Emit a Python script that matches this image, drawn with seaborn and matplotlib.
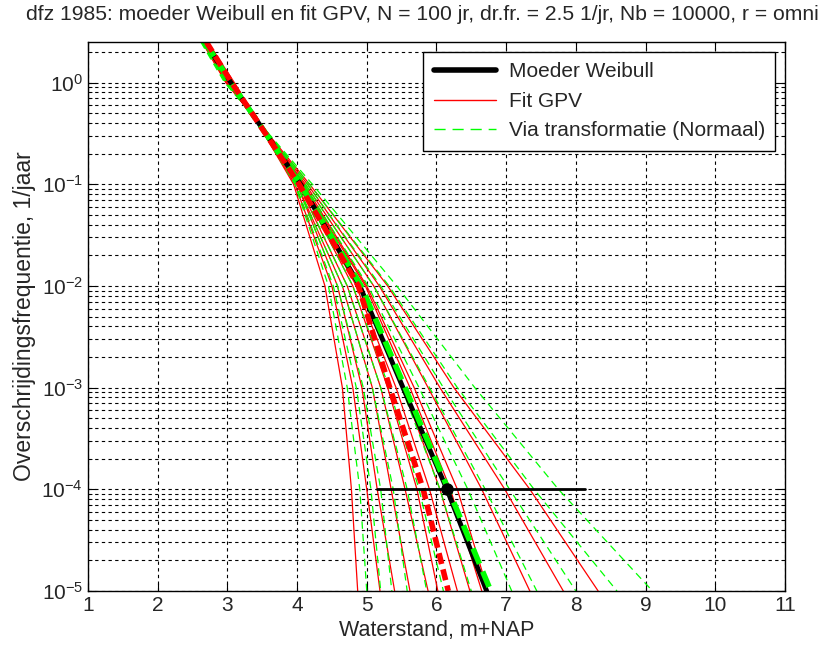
import matplotlib
matplotlib.use('Agg')
import matplotlib.pyplot as plt
import seaborn as sns
from matplotlib.lines import Line2D
from matplotlib.ticker import LogLocator, NullFormatter

freq = [2.5, 1, 1e-1, 1e-2, 1e-3, 1e-4, 1e-5]

# waterstand (m+NAP) at each level
weibull_h = [2.68, 3.05, 4.05, 4.90, 5.52, 6.15, 6.72]
trans_mean_h = [2.68, 3.05, 4.05, 4.92, 5.55, 6.17, 6.78]
gpv_median_h = [2.70, 3.06, 4.03, 4.88, 5.33, 5.81, 6.17]

gpv_h = [
    [2.72, 3.10, 3.95, 4.40, 4.65, 4.78, 4.87],
    [2.70, 3.08, 3.97, 4.50, 4.80, 5.00, 5.19],
    [2.72, 3.08, 4.00, 4.58, 4.93, 5.15, 5.40],
    [2.70, 3.05, 4.00, 4.65, 5.08, 5.35, 5.62],
    [2.68, 3.05, 4.02, 4.72, 5.20, 5.55, 5.88],
    [2.70, 3.05, 4.05, 4.80, 5.30, 5.72, 6.02],
    [2.66, 3.02, 4.05, 4.85, 5.42, 5.90, 6.30],
    [2.68, 3.03, 4.08, 4.92, 5.52, 6.05, 6.48],
    [2.66, 3.00, 4.08, 4.98, 5.62, 6.20, 6.65],
    [2.70, 3.05, 4.10, 5.00, 5.68, 6.30, 6.74],
    [2.66, 3.00, 4.12, 5.10, 5.88, 6.65, 7.34],
    [2.64, 2.98, 4.15, 5.18, 6.05, 6.98, 7.82],
    [2.64, 2.98, 4.18, 5.30, 6.25, 7.34, 8.32],
]

trans_h = [
    [2.70, 3.08, 3.97, 4.45, 4.72, 4.90, 5.00],
    [2.70, 3.08, 3.98, 4.52, 4.85, 5.06, 5.20],
    [2.70, 3.06, 4.00, 4.58, 4.95, 5.20, 5.36],
    [2.68, 3.05, 4.00, 4.65, 5.08, 5.38, 5.58],
    [2.68, 3.05, 4.03, 4.72, 5.20, 5.58, 5.86],
    [2.68, 3.04, 4.05, 4.80, 5.32, 5.75, 6.10],
    [2.66, 3.02, 4.07, 4.90, 5.50, 6.05, 6.50],
    [2.66, 3.00, 4.10, 5.02, 5.75, 6.45, 7.08],
    [2.65, 3.00, 4.12, 5.10, 5.90, 6.70, 7.44],
    [2.64, 2.98, 4.15, 5.20, 6.10, 7.05, 8.00],
    [2.63, 2.98, 4.18, 5.32, 6.30, 7.40, 8.59],
    [2.62, 2.96, 4.22, 5.43, 6.55, 7.75, 9.10],
]

# 1e-4 interval and point
ci_freq = 1e-4
ci_h = [5.14, 8.13]
point_h = 6.15

sns.set_style('ticks')
plt.rcParams['font.family'] = ['Liberation Sans', 'DejaVu Sans']

fig = plt.figure(figsize=(8.37, 6.55), dpi=100)
ax = fig.add_axes([0.1051, 0.0977, 0.8327, 0.838])
ax.set_yscale('log')

red = '#ff0000'
green = '#00ff00'
dash = (0, (6, 4))

for h in gpv_h:
    sns.lineplot(x=h, y=freq, ax=ax, color=red, linewidth=0.9,
                 estimator=None, sort=False, legend=False)
for h in trans_h:
    sns.lineplot(x=h, y=freq, ax=ax, color=green, linewidth=0.9,
                 linestyle=dash, estimator=None, sort=False, legend=False)

sns.lineplot(x=weibull_h, y=freq, ax=ax, color='black', linewidth=3.5,
             estimator=None, sort=False, legend=False)
sns.lineplot(x=trans_mean_h, y=freq, ax=ax, color=green, linewidth=4,
             linestyle=(0, (3, 1.5)), estimator=None, sort=False, legend=False)
sns.lineplot(x=gpv_median_h, y=freq, ax=ax, color=red, linewidth=4,
             linestyle=(0, (2, 1)), estimator=None, sort=False, legend=False)

sns.lineplot(x=ci_h, y=[ci_freq, ci_freq], ax=ax, color='black', linewidth=2,
             estimator=None, sort=False, legend=False)
ax.plot([point_h], [ci_freq], 'o', color='black', markersize=8)

ax.set_xlim(1, 11)
ax.set_ylim(1e-5, 2.5)
ax.set_xticks(range(1, 12))
ax.yaxis.set_major_locator(LogLocator(base=10, numticks=10))
ax.yaxis.set_minor_locator(LogLocator(base=10, subs=range(2, 10), numticks=100))
ax.yaxis.set_minor_formatter(NullFormatter())

grid_kw = dict(color='black', linestyle=(0, (3, 3)), linewidth=0.8)
ax.grid(True, which='major', axis='both', **grid_kw)
ax.grid(True, which='minor', axis='y', **grid_kw)
ax.set_axisbelow(True)

ax.tick_params(which='both', direction='in', top=True, right=True,
               labelsize=15, color='black')
ax.tick_params(which='major', length=6)
ax.tick_params(which='minor', length=3)
for s in ax.spines.values():
    s.set_color('black')
    s.set_linewidth(1)

ax.set_xlabel('Waterstand, m+NAP', fontsize=15.5, labelpad=4)
ax.set_ylabel('Overschrijdingsfrequentie, 1/jaar', fontsize=16.5, labelpad=4)
fig.text(0.505, 0.978, 'dfz 1985: moeder Weibull en fit GPV, N = 100 jr, dr.fr. = 2.5 1/jr, '
         'Nb = 10000, r = omni', fontsize=15.2, ha='center', va='center')

handles = [
    Line2D([], [], color='black', linewidth=4),
    Line2D([], [], color=red, linewidth=1),
    Line2D([], [], color=green, linewidth=1, linestyle=(0, (8, 5))),
]
labels = ['Moeder Weibull', 'Fit GPV', 'Via transformatie (Normaal)']
leg = ax.legend(handles, labels, loc='upper right', bbox_to_anchor=(0.986, 0.982),
                borderaxespad=0, fancybox=False, framealpha=1, edgecolor='black',
                fontsize=15, handlelength=3.0, labelspacing=0.5, borderpad=0.5,
                handletextpad=0.6)
leg.get_frame().set_linewidth(1)

fig.savefig('out.png', dpi=100)
